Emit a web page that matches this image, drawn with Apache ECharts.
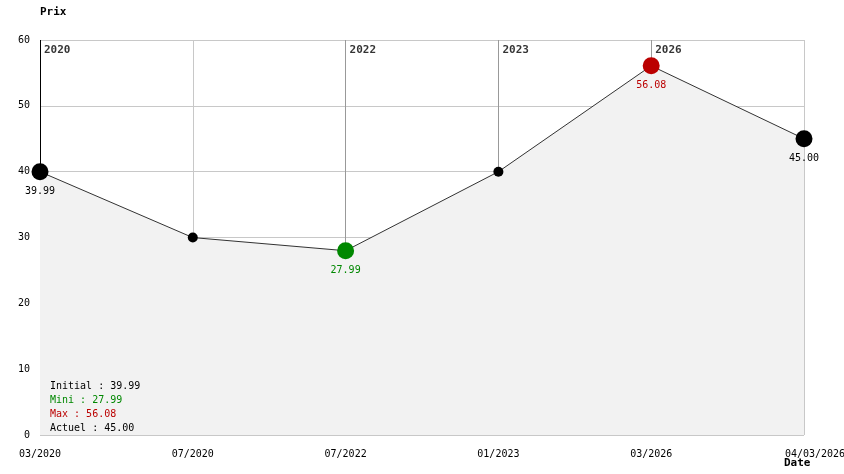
<!DOCTYPE html>
<html>
<head>
<meta charset="utf-8">
<script src="https://cdn.jsdelivr.net/npm/echarts@6/dist/echarts.min.js"></script>
<style>html,body{margin:0;padding:0;background:#fff}#c{width:844px;height:474px}</style>
</head>
<body>
<div id="c"></div>
<script>
var categories = ['03/2020', '07/2020', '07/2022', '01/2023', '03/2026', '04/03/2026'];
var prices = [39.99, 29.99, 27.99, 39.99, 56.08, 45.00];
var yearLabels = ['2020', '2022', '2023', '2026'];
var yearIndex = [0, 2, 3, 4];
var yTicks = [0, 10, 20, 30, 40, 50, 60];

var FONT = 'DejaVu Sans Mono';
var n = prices.length;
var minV = Math.min.apply(null, prices), maxV = Math.max.apply(null, prices);
var minI = prices.indexOf(minV), maxI = prices.indexOf(maxV);

var pts = prices.map(function (v, i) {
  var color = '#000', size = 10, label = false;
  if (i === 0 || i === n - 1) { size = 17; label = true; }
  if (i === minI) { color = '#008800'; size = 17; label = true; }
  if (i === maxI) { color = '#bb0000'; size = 17; label = true; }
  return {
    value: v,
    symbolSize: size,
    itemStyle: { color: color },
    label: { show: label, color: color, formatter: v.toFixed(2) }
  };
});

var catData = categories.map(function (c, i) {
  return i === categories.length - 1 ? { value: c, textStyle: { padding: [0, 0, 0, 22] } } : c;
});

var markData = yearIndex.map(function (idx, k) {
  return [
    { coord: [idx, 60], lineStyle: { color: idx === 0 ? '#000' : '#999', width: 1, type: 'solid' } },
    { coord: [idx, prices[idx]] }
  ];
});

var yearPts = yearIndex.map(function (idx, k) {
  return { value: [idx, 60], label: { formatter: yearLabels[k] } };
});

var chart = echarts.init(document.getElementById('c'), null, { renderer: 'canvas' });
chart.setOption({
  animation: false,
  backgroundColor: '#fff',
  textStyle: { fontFamily: FONT },
  grid: { left: 40, right: 40, top: 40, bottom: 39, containLabel: false, outerBoundsMode: 'none' },
  xAxis: {
    type: 'category',
    data: catData,
    boundaryGap: false,
    axisLine: { show: false },
    axisTick: { show: false },
    axisLabel: { color: '#000', fontFamily: FONT, fontSize: 10, margin: 14, showMinLabel: true, showMaxLabel: true, interval: 0, hideOverlap: false },
    splitLine: { show: true, lineStyle: { color: '#c8c8c8', width: 1 } }
  },
  yAxis: {
    type: 'value',
    min: 0, max: 60, interval: 10,
    name: 'Prix',
    nameLocation: 'end',
    nameGap: 0,
    nameTextStyle: { fontFamily: FONT, fontWeight: 'bold', fontSize: 11, color: '#000', align: 'left', verticalAlign: 'bottom', padding: [0, 0, 22, 0] },
    axisLine: { show: false },
    axisTick: { show: false },
    axisLabel: { color: '#000', fontFamily: FONT, fontSize: 10, margin: 10 },
    splitLine: { show: true, lineStyle: { color: '#c8c8c8', width: 1 } }
  },
  series: [
    {
      type: 'line',
      data: prices,
      z: 1,
      symbol: 'none',
      lineStyle: { opacity: 0 },
      silent: true,
      markLine: {
        silent: true,
        z: 1,
        symbol: 'none',
        label: { show: false },
        data: markData
      }
    },
    {
      type: 'line',
      data: pts,
      z: 3,
      symbol: 'circle',
      lineStyle: { color: '#333', width: 1 },
      areaStyle: { color: '#f2f2f2', opacity: 1 },
      label: { position: 'bottom', distance: 6, fontFamily: FONT, fontSize: 10 }
    },
    {
      type: 'scatter',
      data: yearPts,
      z: 4,
      symbolSize: 0,
      silent: true,
      label: { show: true, position: [4, 5], align: 'left', verticalAlign: 'top', fontFamily: FONT, fontWeight: 'bold', fontSize: 11, color: '#000' }
    }
  ],
  graphic: [{
    type: 'text',
    left: 50,
    top: 379,
    z: 10,
    style: {
      text: '{k|Initial : ' + prices[0].toFixed(2) + '}\n{g|Mini : ' + minV.toFixed(2) + '}\n{r|Max : ' + maxV.toFixed(2) + '}\n{k|Actuel : ' + prices[n - 1].toFixed(2) + '}',
      font: '10px "' + FONT + '"',
      lineHeight: 14,
      rich: {
        k: { fill: '#000', fontFamily: FONT, fontSize: 10, lineHeight: 14 },
        g: { fill: '#008800', fontFamily: FONT, fontSize: 10, lineHeight: 14 },
        r: { fill: '#bb0000', fontFamily: FONT, fontSize: 10, lineHeight: 14 }
      }
    }
  }, {
    type: 'text',
    left: 784,
    top: 458,
    z: 10,
    style: { text: 'Date', fill: '#000', font: 'bold 11px "' + FONT + '"' }
  }]
});
</script>
</body>
</html>
